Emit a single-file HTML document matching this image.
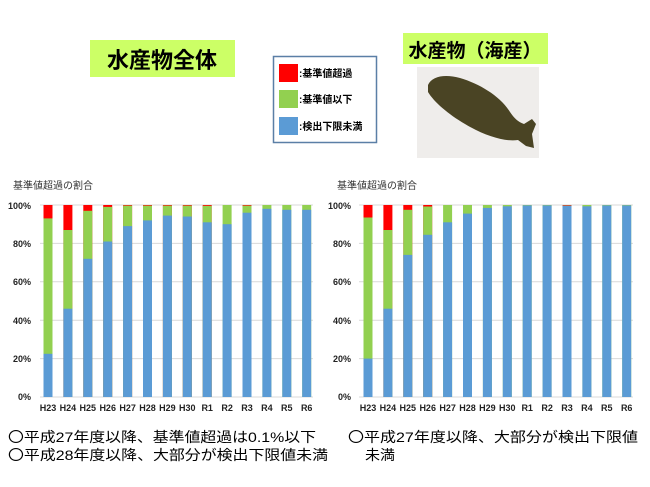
<!DOCTYPE html>
<html><head><meta charset="utf-8"><style>
body{margin:0;background:#fff;}
svg{display:block;font-family:"Liberation Sans","Noto Sans CJK JP",sans-serif;}
</style></head><body>
<svg width="650" height="487" viewBox="0 0 650 487" xmlns="http://www.w3.org/2000/svg">
<rect x="90" y="40" width="145" height="37" fill="#ccff66"/>
<text x="162" y="68" font-size="22" font-weight="bold" text-anchor="middle" fill="#000">水産物全体</text>
<rect x="403" y="33" width="145" height="31" fill="#ccff66"/>
<text x="475" y="57" font-size="19" font-weight="bold" text-anchor="middle" fill="#000">水産物（海産）</text>
<rect x="417" y="67" width="122" height="91" fill="#efedeb"/>
<path d="M428 85 C432 76,445 74,460 78 C480 84,500 96,510 112 C514 118,518 122,524 124 L532 119 L536 124 L532 134 L534 148 L526 146 L518 140 C505 142,485 136,465 124 C448 114,434 102,428 92Z" fill="#4a4424"/>
<rect x="273.5" y="56.5" width="103" height="86" fill="#fff" stroke="#5b7fa6" stroke-width="1.5"/>
<rect x="279" y="64" width="19" height="18" fill="#ff0000"/>
<rect x="279" y="90" width="19" height="18" fill="#92d050"/>
<rect x="279" y="117" width="19" height="18" fill="#5b9bd5"/>
<g font-size="10" font-weight="bold" fill="#000">
<text x="299" y="77">:基準値超過</text>
<text x="299" y="103">:基準値以下</text>
<text x="299" y="130">:検出下限未満</text>
</g>
<g font-size="10" fill="#333">
<text x="13" y="189">基準値超過の割合</text>
<text x="337" y="189">基準値超過の割合</text>
</g>
<g stroke="#d9d9d9" stroke-width="1">
<line x1="40" y1="205" x2="313" y2="205"/><line x1="40" y1="243.4" x2="313" y2="243.4"/><line x1="40" y1="281.8" x2="313" y2="281.8"/><line x1="40" y1="320.2" x2="313" y2="320.2"/><line x1="40" y1="358.6" x2="313" y2="358.6"/><line x1="40" y1="397" x2="313" y2="397"/>
<line x1="359" y1="205" x2="633" y2="205"/><line x1="359" y1="243.4" x2="633" y2="243.4"/><line x1="359" y1="281.8" x2="633" y2="281.8"/><line x1="359" y1="320.2" x2="633" y2="320.2"/><line x1="359" y1="358.6" x2="633" y2="358.6"/><line x1="359" y1="397" x2="633" y2="397"/>
</g>
<g font-size="9" font-weight="bold" fill="#222" text-anchor="end">
<text x="31" y="209">100%</text><text x="31" y="247">80%</text><text x="31" y="285">60%</text><text x="31" y="324">40%</text><text x="31" y="362">20%</text><text x="31" y="400">0%</text>
<text x="351" y="209">100%</text><text x="351" y="247">80%</text><text x="351" y="285">60%</text><text x="351" y="324">40%</text><text x="351" y="362">20%</text><text x="351" y="400">0%</text>
</g>
<g>
<rect x="43.5" y="205" width="9" height="192" fill="#ff0000"/><rect x="43.5" y="218.4" width="9" height="178.6" fill="#92d050"/><rect x="43.5" y="353.8" width="9" height="43.2" fill="#5b9bd5"/>
<rect x="63.4" y="205" width="9" height="192" fill="#ff0000"/><rect x="63.4" y="230" width="9" height="167" fill="#92d050"/><rect x="63.4" y="308.7" width="9" height="88.3" fill="#5b9bd5"/>
<rect x="83.3" y="205" width="9" height="192" fill="#ff0000"/><rect x="83.3" y="210.8" width="9" height="186.2" fill="#92d050"/><rect x="83.3" y="258.8" width="9" height="138.2" fill="#5b9bd5"/>
<rect x="103.2" y="205" width="9" height="192" fill="#ff0000"/><rect x="103.2" y="206.9" width="9" height="190.1" fill="#92d050"/><rect x="103.2" y="241.5" width="9" height="155.5" fill="#5b9bd5"/>
<rect x="123.1" y="205" width="9" height="192" fill="#ff0000"/><rect x="123.1" y="205.6" width="9" height="191.4" fill="#92d050"/><rect x="123.1" y="226.1" width="9" height="170.9" fill="#5b9bd5"/>
<rect x="143" y="205" width="9" height="192" fill="#ff0000"/><rect x="143" y="205.6" width="9" height="191.4" fill="#92d050"/><rect x="143" y="220.4" width="9" height="176.6" fill="#5b9bd5"/>
<rect x="162.9" y="205" width="9" height="192" fill="#ff0000"/><rect x="162.9" y="205.6" width="9" height="191.4" fill="#92d050"/><rect x="162.9" y="215.6" width="9" height="181.4" fill="#5b9bd5"/>
<rect x="182.8" y="205" width="9" height="192" fill="#ff0000"/><rect x="182.8" y="205.6" width="9" height="191.4" fill="#92d050"/><rect x="182.8" y="216.5" width="9" height="180.5" fill="#5b9bd5"/>
<rect x="202.7" y="205" width="9" height="192" fill="#ff0000"/><rect x="202.7" y="205.8" width="9" height="191.2" fill="#92d050"/><rect x="202.7" y="222.3" width="9" height="174.7" fill="#5b9bd5"/>
<rect x="222.6" y="205" width="9" height="192" fill="#92d050"/><rect x="222.6" y="224.2" width="9" height="172.8" fill="#5b9bd5"/>
<rect x="242.5" y="205" width="9" height="192" fill="#ff0000"/><rect x="242.5" y="205.6" width="9" height="191.4" fill="#92d050"/><rect x="242.5" y="212.7" width="9" height="184.3" fill="#5b9bd5"/>
<rect x="262.4" y="205" width="9" height="192" fill="#92d050"/><rect x="262.4" y="208.8" width="9" height="188.2" fill="#5b9bd5"/>
<rect x="282.3" y="205" width="9" height="192" fill="#92d050"/><rect x="282.3" y="209.8" width="9" height="187.2" fill="#5b9bd5"/>
<rect x="302.2" y="205" width="9" height="192" fill="#92d050"/><rect x="302.2" y="209.8" width="9" height="187.2" fill="#5b9bd5"/>
</g>
<g>
<rect x="363.5" y="205" width="9" height="192" fill="#ff0000"/><rect x="363.5" y="217.5" width="9" height="179.5" fill="#92d050"/><rect x="363.5" y="358.6" width="9" height="38.4" fill="#5b9bd5"/>
<rect x="383.4" y="205" width="9" height="192" fill="#ff0000"/><rect x="383.4" y="230" width="9" height="167" fill="#92d050"/><rect x="383.4" y="308.7" width="9" height="88.3" fill="#5b9bd5"/>
<rect x="403.3" y="205" width="9" height="192" fill="#ff0000"/><rect x="403.3" y="209.8" width="9" height="187.2" fill="#92d050"/><rect x="403.3" y="254.9" width="9" height="142.1" fill="#5b9bd5"/>
<rect x="423.2" y="205" width="9" height="192" fill="#ff0000"/><rect x="423.2" y="206.5" width="9" height="190.5" fill="#92d050"/><rect x="423.2" y="234.8" width="9" height="162.2" fill="#5b9bd5"/>
<rect x="443.1" y="205" width="9" height="192" fill="#92d050"/><rect x="443.1" y="222.3" width="9" height="174.7" fill="#5b9bd5"/>
<rect x="463" y="205" width="9" height="192" fill="#92d050"/><rect x="463" y="213.6" width="9" height="183.4" fill="#5b9bd5"/>
<rect x="482.9" y="205" width="9" height="192" fill="#92d050"/><rect x="482.9" y="207.9" width="9" height="189.1" fill="#5b9bd5"/>
<rect x="502.8" y="205" width="9" height="192" fill="#92d050"/><rect x="502.8" y="206.3" width="9" height="190.7" fill="#5b9bd5"/>
<rect x="522.7" y="205" width="9" height="192" fill="#92d050"/><rect x="522.7" y="205.4" width="9" height="191.6" fill="#5b9bd5"/>
<rect x="542.6" y="205" width="9" height="192" fill="#92d050"/><rect x="542.6" y="205.4" width="9" height="191.6" fill="#5b9bd5"/>
<rect x="562.5" y="205" width="9" height="192" fill="#ff0000"/><rect x="562.5" y="205.5" width="9" height="191.5" fill="#92d050"/><rect x="562.5" y="205.8" width="9" height="191.2" fill="#5b9bd5"/>
<rect x="582.4" y="205" width="9" height="192" fill="#92d050"/><rect x="582.4" y="206.3" width="9" height="190.7" fill="#5b9bd5"/>
<rect x="602.3" y="205" width="9" height="192" fill="#92d050"/><rect x="602.3" y="205.4" width="9" height="191.6" fill="#5b9bd5"/>
<rect x="622.2" y="205" width="9" height="192" fill="#92d050"/><rect x="622.2" y="205.4" width="9" height="191.6" fill="#5b9bd5"/>
</g>
<g font-size="9" font-weight="bold" fill="#222" text-anchor="middle">
<text x="48" y="411">H23</text><text x="67.9" y="411">H24</text><text x="87.8" y="411">H25</text><text x="107.7" y="411">H26</text><text x="127.6" y="411">H27</text><text x="147.5" y="411">H28</text><text x="167.4" y="411">H29</text><text x="187.3" y="411">H30</text><text x="207.2" y="411">R1</text><text x="227.1" y="411">R2</text><text x="247" y="411">R3</text><text x="266.9" y="411">R4</text><text x="286.8" y="411">R5</text><text x="306.7" y="411">R6</text>
<text x="368" y="411">H23</text><text x="387.9" y="411">H24</text><text x="407.8" y="411">H25</text><text x="427.7" y="411">H26</text><text x="447.6" y="411">H27</text><text x="467.5" y="411">H28</text><text x="487.4" y="411">H29</text><text x="507.3" y="411">H30</text><text x="527.2" y="411">R1</text><text x="547.1" y="411">R2</text><text x="567" y="411">R3</text><text x="586.9" y="411">R4</text><text x="606.8" y="411">R5</text><text x="626.7" y="411">R6</text>
</g>
<g font-size="14" fill="#000">
<text x="8" y="442" textLength="308" lengthAdjust="spacingAndGlyphs">〇平成27年度以降、基準値超過は0.1%以下</text>
<text x="8" y="460" textLength="320" lengthAdjust="spacingAndGlyphs">〇平成28年度以降、大部分が検出下限値未満</text>
<text x="348" y="442" textLength="290" lengthAdjust="spacingAndGlyphs">〇平成27年度以降、大部分が検出下限値</text>
<text x="365" y="460" textLength="30" lengthAdjust="spacingAndGlyphs">未満</text>
</g>
</svg>
</body></html>
